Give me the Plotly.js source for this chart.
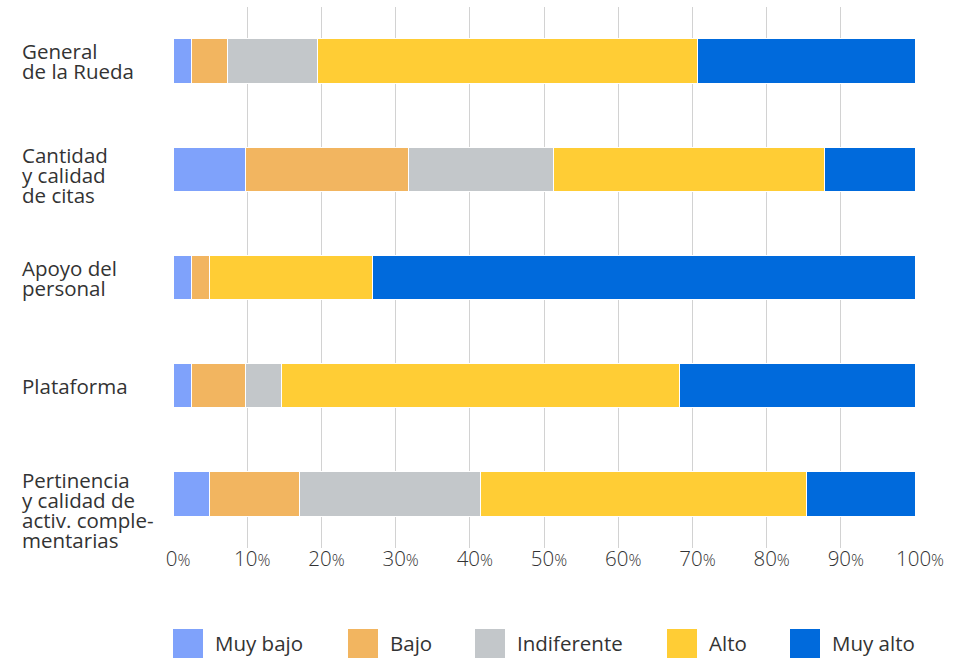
<!DOCTYPE html>
<html>
<head>
<meta charset="utf-8">
<script src="https://cdn.plot.ly/plotly-3.0.1.min.js"></script>
<style>
  html, body { margin: 0; padding: 0; background: #ffffff; }
  #chart { width: 955px; height: 658px; }
</style>
</head>
<body>
<div id="chart"></div>
<script>
// ---- data (percent of respondents) ----
var categories = [
  "General<br>de la Rueda",
  "Cantidad<br>y calidad<br>de citas",
  "Apoyo del<br>personal",
  "Plataforma",
  "Pertinencia<br>y calidad de<br>activ. comple-<br>mentarias"
];
var seriesNames = ["Muy bajo", "Bajo", "Indiferente", "Alto", "Muy alto"];
var muyBajo     = [2.44, 9.76, 2.44, 2.44, 4.88];
var bajo        = [4.88, 21.95, 2.44, 7.32, 12.20];
var indiferente = [12.20, 19.51, 0.00, 4.88, 24.39];
var alto        = [51.22, 36.59, 21.95, 53.66, 43.90];
var muyAlto     = [29.27, 12.20, 73.17, 31.71, 14.63];
var tickValues  = [0, 10, 20, 30, 40, 50, 60, 70, 80, 90, 100];
var tickNumbers = ["0", "10", "20", "30", "40", "50", "60", "70", "80", "90", "100"];

// ---- styles ----
var colors = ["#7fa2fb", "#f2b560", "#c3c7ca", "#ffcd35", "#006adc"];
var W = 955, H = 658;
var M = { l: 173, r: 40, t: 7, b: 110 };
var PW = W - M.l - M.r, PH = H - M.t - M.b;
function px2x(px) { return (px - M.l) / PW; }
function py2y(py) { return (H - M.b - py) / PH; }
var FONT = "'Open Sans', 'Noto Sans', sans-serif";
var LABEL_SIZE = 20.5;

var allSeries = [muyBajo, bajo, indiferente, alto, muyAlto];
var yIdx = categories.map(function (c, i) { return i; });

var traces = allSeries.map(function (vals, k) {
  return {
    type: "bar",
    orientation: "h",
    name: seriesNames[k],
    x: vals,
    y: yIdx,
    width: 0.41,
    marker: { color: colors[k], line: { color: "#ffffff", width: 1 } },
    hoverinfo: "x+name"
  };
});

// category labels, left-aligned, one annotation per line
var annotations = [];
categories.forEach(function (cat, i) {
  var lines = cat.split("<br>");
  var n = lines.length;
  var start = Math.max(-(n - 1) * 10, -14);
  lines.forEach(function (ln, j) {
    var off = start + 20 * j;
    annotations.push({
      xref: "paper", yref: "y",
      x: px2x(20), y: i,
      xanchor: "left", yanchor: "middle",
      yshift: -off,
      text: ln, showarrow: false,
      font: { family: FONT, size: LABEL_SIZE, color: "#333333" }
    });
  });
});

// custom legend
var legendX = [173, 348, 475, 667, 790];
var shapes = [];
seriesNames.forEach(function (nm, k) {
  shapes.push({
    type: "rect", xref: "paper", yref: "paper",
    x0: px2x(legendX[k]), x1: px2x(legendX[k] + 30),
    y0: py2y(659), y1: py2y(629),
    fillcolor: colors[k], line: { width: 0 }
  });
  annotations.push({
    xref: "paper", yref: "paper",
    x: px2x(legendX[k] + 40), y: py2y(643),
    xanchor: "left", yanchor: "middle",
    text: nm, showarrow: false,
    font: { family: FONT, size: LABEL_SIZE, color: "#333333" }
  });
});

var tickText = tickNumbers.map(function (t) {
  return t + "<span style='font-size:16px'>%</span>";
});

var layout = {
  width: W, height: H,
  margin: M,
  paper_bgcolor: "#ffffff",
  plot_bgcolor: "#ffffff",
  barmode: "stack",
  showlegend: false,
  font: { family: FONT, color: "#444444" },
  xaxis: {
    range: [0, 100],
    tickvals: tickValues,
    ticktext: tickText,
    showgrid: true,
    gridcolor: "#d2d2d2",
    gridwidth: 1,
    zeroline: false,
    showline: false,
    ticks: "",
    ticklabelshift: 5,
    ticklabelstandoff: -4,
    tickfont: { family: FONT, size: 20.5, color: "#333333", weight: 300 },
    fixedrange: true
  },
  yaxis: {
    range: [4.5, -0.5],
    showticklabels: false,
    showgrid: false,
    zeroline: false,
    showline: false,
    fixedrange: true
  },
  annotations: annotations,
  shapes: shapes
};

Plotly.newPlot("chart", traces, layout, { displayModeBar: false, staticPlot: true });
</script>
</body>
</html>
